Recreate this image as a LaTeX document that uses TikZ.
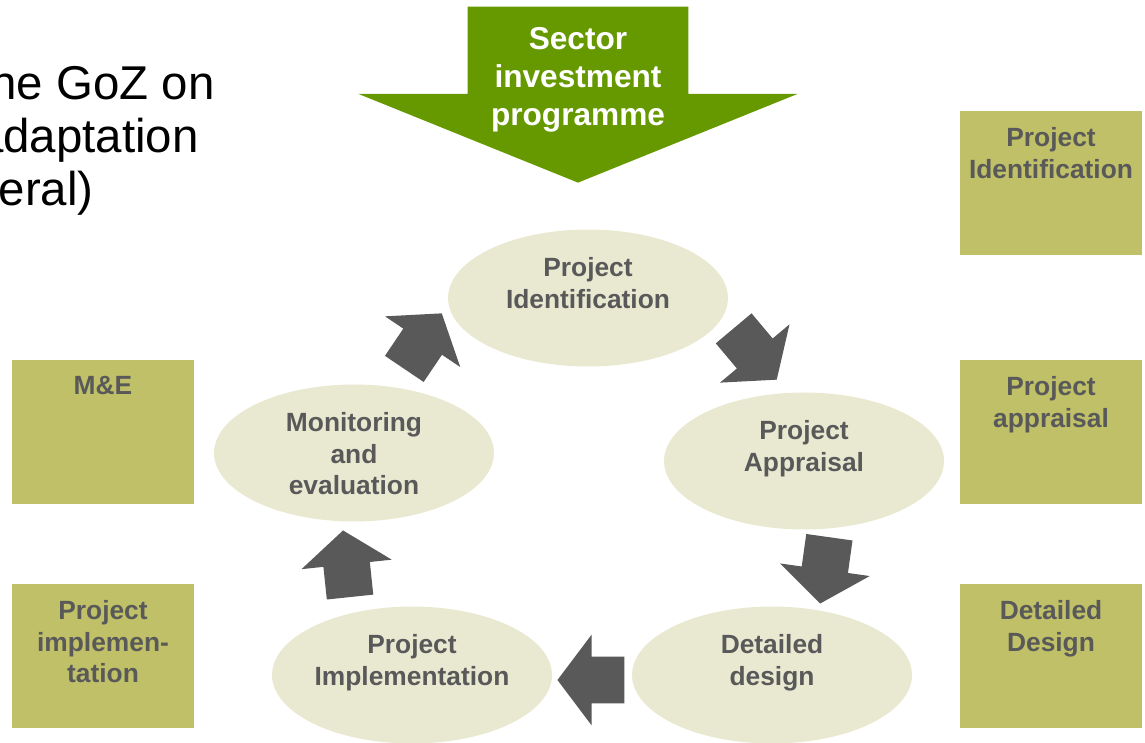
\documentclass[tikz,border=0pt]{standalone}
\usepackage{fontspec}
\setmainfont{Liberation Sans}
\usetikzlibrary{shapes.geometric,shapes.arrows,positioning}
\definecolor{phasefill}{RGB}{233,233,210}
\definecolor{boxolive}{RGB}{192,192,104}
\definecolor{arrowgray}{RGB}{89,89,89}
\definecolor{labelgray}{RGB}{89,89,89}
\definecolor{sectorgreen}{RGB}{102,153,0}
\tikzset{
		phase/.style={
			ellipse, minimum width=5.6cm, minimum height=2.74cm, inner sep=0pt, fill=phasefill},
		phasetext/.style={
			align=center, inner sep=0pt, text=labelgray, font=\bfseries\fontsize{15}{18}\selectfont},
		stepbox/.style={
			rectangle, minimum width=3.64cm, minimum height=2.9cm, inner sep=0pt, fill=boxolive},
		blkarrow/.style={
			single arrow, anchor=tip, minimum height=1.34cm, inner xsep=0pt, inner ysep=0.46cm,
			single arrow head extend=0.44cm, single arrow tip angle=106, fill=arrowgray},
		bigarrow/.style={
			single arrow, anchor=tip, minimum height=3.52cm, inner xsep=0pt, inner ysep=2.2cm,
			single arrow head extend=2.19cm, single arrow tip angle=136, fill=sectorgreen},
		introtext/.style={inner sep=0pt, anchor=base east, font=\fontsize{27}{30}\selectfont},
	}
\def\gap{0.56cm}
\def\boxgap{0.34cm}

\begin{document}
\begin{tikzpicture}[x=0.02cm, y=-0.02cm]
			\useasboundingbox (0,0) rectangle (1145,743);
			\clip (0,0) rectangle (1145,743);
			\node[introtext] (l1) at (215,100) {he GoZ on};
			\node[introtext] (l2) at (199,153) {adaptation};
			\node[introtext] (l3) at (94,206) {eral)};
			\node[bigarrow, rotate=-90] (sip) at (578,183) {};
			\node[phasetext, text=white, font=\bfseries\fontsize{18}{21.6}\selectfont, anchor=north]
				(sipt) at (578,27) {Sector\\investment\\programme};
			\node[phase] (pid) at (588,298) {};
			\node[phase] (pap) at (804,461) {};
			\node[phase] (pdd) at (772,675) {};
			\node[phase] (pim) at (412,675) {};
			\node[phase] (pme) at (354,453) {};
			\node[phasetext, below=\gap of pid.north] (pidt) {Project\\Identification};
			\node[phasetext, below=\gap of pap.north] (papt) {Project\\Appraisal};
			\node[phasetext, below=\gap of pdd.north] (pddt) {Detailed\\design};
			\node[phasetext, below=\gap of pim.north] (pimt) {Project\\Implementation};
			\node[phasetext, below=\gap of pme.north] (pmet) {Monitoring\\and\\evaluation};
			\node[blkarrow, rotate=-50] (a1) at (777,380) {};
			\node[blkarrow, rotate=-98] (a2) at (820,604) {};
			\node[blkarrow, rotate=180] (a3) at (557,680) {};
			\node[blkarrow, rotate=96] (a4) at (343,530) {};
			\node[blkarrow, rotate=56] (a5) at (442,313) {};
			\node[stepbox] (b1) at (1051,183) {};
			\node[stepbox] (b2) at (1051,432) {};
			\node[stepbox] (b3) at (1051,656) {};
			\node[stepbox] (b4) at (103,432) {};
			\node[stepbox] (b5) at (103,656) {};
			\node[phasetext, below=\boxgap of b1.north] (b1t) {Project\\Identification};
			\node[phasetext, below=\boxgap of b2.north] (b2t) {Project\\appraisal};
			\node[phasetext, below=\boxgap of b3.north] (b3t) {Detailed\\Design};
			\node[phasetext, below=\boxgap of b4.north] (b4t) {M\&E};
			\node[phasetext, below=\boxgap of b5.north] (b5t) {Project\\implemen-\\tation};
\end{tikzpicture}
\end{document}
